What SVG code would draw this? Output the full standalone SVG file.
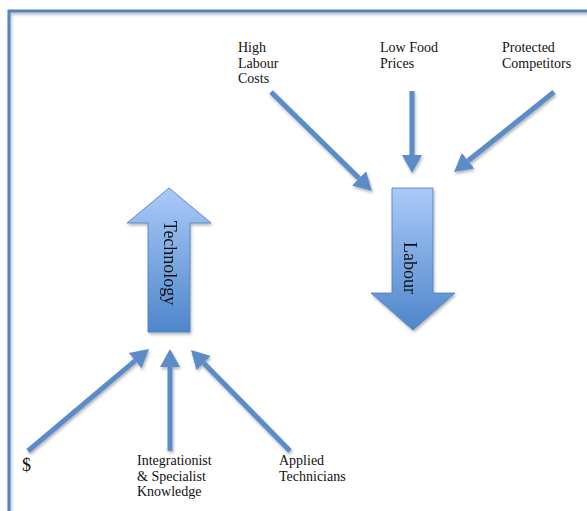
<svg xmlns="http://www.w3.org/2000/svg" width="587" height="511" viewBox="0 0 587 511">
<style>
.lbl{font-family:"Liberation Serif","Times New Roman",serif;font-size:14px;fill:#111}
.big{font-family:"Liberation Serif","Times New Roman",serif;font-size:18px;fill:#111}
.con line{stroke:#5B8CC8;stroke-width:5;fill:none;marker-end:url(#ah)}
.blk{fill:url(#g);stroke:#4A7DBA;stroke-width:0.8}
</style>
<defs>
<linearGradient id="g" x1="0" y1="0" x2="0" y2="1">
<stop offset="0" stop-color="#AACAF8"/>
<stop offset="1" stop-color="#4E86CB"/>
</linearGradient>
<filter id="sh" x="-20%" y="-20%" width="140%" height="140%">
<feDropShadow dx="1" dy="2" stdDeviation="1.5" flood-color="#000" flood-opacity="0.3"/>
</filter>
<marker id="ah" markerUnits="userSpaceOnUse" markerWidth="20" markerHeight="22" viewBox="0 -11 20 22" refX="0" refY="0" orient="auto">
<path d="M0,-10 L18,0 L0,10 Z" fill="#5B8CC8"/>
</marker>
</defs>
<rect id="frame" x="9" y="11" width="620" height="540" fill="none" stroke="#5585C0" stroke-width="3" filter="url(#sh)"/>
<g id="technology" filter="url(#sh)">
<path class="blk" d="M169,188 L211,223 L190,223 L190,332 L148,332 L148,223 L127,223 Z"/>
<text class="big" transform="translate(169,263) rotate(90)" text-anchor="middle" y="5">Technology</text>
</g>
<g id="labour" filter="url(#sh)">
<path class="blk" d="M392,188 L433,188 L433,293 L455,293 L413,330 L371,293 L392,293 Z"/>
<text class="big" transform="translate(410,268) rotate(90)" text-anchor="middle" y="6">Labour</text>
</g>
<g id="connectors" class="con" filter="url(#sh)">
<line x1="271" y1="92" x2="359.1" y2="178.4"/>
<line x1="412" y1="91" x2="412" y2="155"/>
<line x1="554" y1="92" x2="468.1" y2="160.8"/>
<line x1="28" y1="451" x2="135.2" y2="360.6"/>
<line x1="170" y1="451" x2="170" y2="367"/>
<line x1="290" y1="451" x2="203.6" y2="362.9"/>
</g>
<g id="high-labour-costs"><text class="lbl" x="238" y="52">High</text><text class="lbl" x="238" y="67.5">Labour</text><text class="lbl" x="238" y="83">Costs</text></g>
<g id="low-food-prices"><text class="lbl" x="380" y="52">Low Food</text><text class="lbl" x="380" y="67.5">Prices</text></g>
<g id="protected-competitors"><text class="lbl" x="502" y="52">Protected</text><text class="lbl" x="502" y="67.5">Competitors</text></g>
<g id="dollar"><text class="big" x="22" y="471">$</text></g>
<g id="integrationist"><text class="lbl" x="137" y="465">Integrationist</text><text class="lbl" x="137" y="480.5">&amp; Specialist</text><text class="lbl" x="137" y="496">Knowledge</text></g>
<g id="applied-technicians"><text class="lbl" x="279" y="465">Applied</text><text class="lbl" x="279" y="480.5">Technicians</text></g>
</svg>
